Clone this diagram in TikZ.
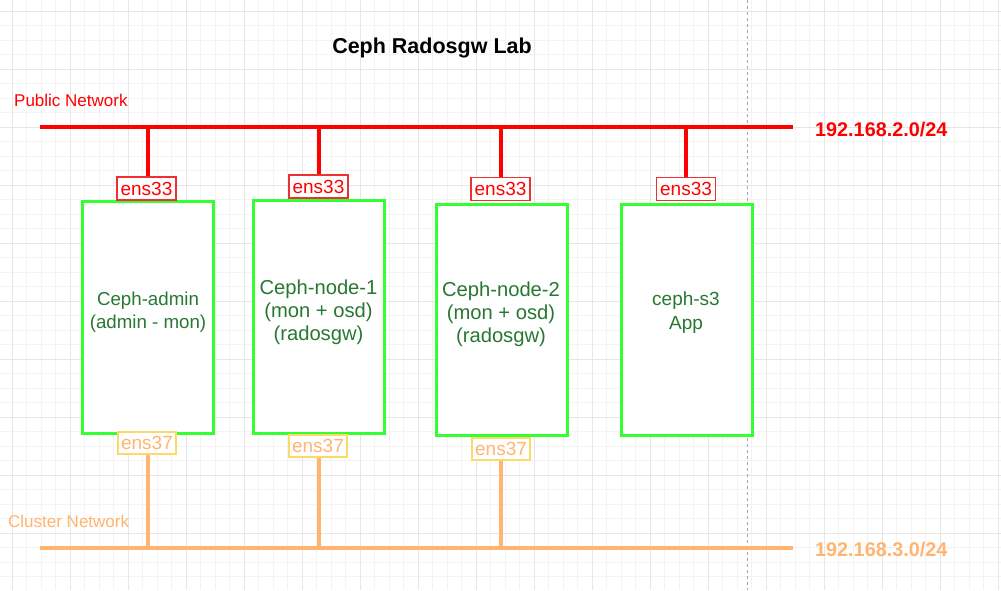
\documentclass[tikz,border=0pt]{standalone}
\usepackage{fontspec}
\setmainfont{Liberation Sans}
\definecolor{netred}{HTML}{FF0000}
\definecolor{boxred}{HTML}{F03030}
\definecolor{netorange}{HTML}{FFB570}
\definecolor{boxyellow}{HTML}{FFD966}
\definecolor{hostgreen}{HTML}{33FF33}
\definecolor{txtgreen}{HTML}{287832}
\definecolor{gridmajor}{HTML}{E6E6E6}
\definecolor{gridminor}{HTML}{F3F3F3}
\begin{document}
\begin{tikzpicture}[x=1pt,y=-1pt,
  minorgrid/.style={draw=gridminor,line width=0.8pt},
  majorgrid/.style={draw=gridmajor,line width=0.9pt},
  pagebreak/.style={draw=gray!70,line width=0.8pt,dash pattern=on 3pt off 3pt},
  pubbus/.style={draw=netred,line width=4pt},
  clubus/.style={draw=netorange,line width=4pt},
  hostbox/.style={draw=hostgreen,line width=3pt,fill=white,inner sep=0pt},
  nicpub/.style={draw=boxred,line width=1.2pt,fill=white,inner sep=0pt,minimum width=59pt,minimum height=23pt,text=netred,font=\fontsize{19}{21}\selectfont},
  niccl/.style={draw=boxyellow,line width=1.2pt,fill=white,inner sep=0pt,minimum width=58pt,minimum height=22pt,text=netorange,font=\fontsize{19}{21}\selectfont},
  hosttext/.style={align=center,text=txtgreen,inner sep=0pt},
  nettext/.style={anchor=west,inner sep=0pt,font=\fontsize{17}{19}\selectfont},
  iptext/.style={anchor=west,inner sep=0pt,font=\fontsize{19.8}{22}\selectfont\bfseries}
]
\useasboundingbox (0,0) rectangle (1001,590);
\fill[white] (0,0) rectangle (1001,590);
% grid
\foreach \i in {-1,...,69} {
  \pgfmathsetmacro\xx{12+14.5*\i}
  \draw[minorgrid] (\xx,0) -- (\xx,590);
}
\foreach \i in {-1,...,40} {
  \pgfmathsetmacro\yy{11+14.5*\i}
  \draw[minorgrid] (0,\yy) -- (1001,\yy);
}
\foreach \i in {0,...,17} {
  \pgfmathsetmacro\xx{12+58*\i}
  \draw[majorgrid] (\xx,0) -- (\xx,590);
}
\foreach \i in {0,...,10} {
  \pgfmathsetmacro\yy{11+58*\i}
  \draw[majorgrid] (0,\yy) -- (1001,\yy);
}
\draw[pagebreak] (747.5,0) -- (747.5,590);

% title and labels
\node[inner sep=0pt,font=\fontsize{21.5}{24}\selectfont\bfseries] (title) at (432,48) {Ceph Radosgw Lab};
\node[nettext,text=netred] (pubname) at (14,100) {Public Network};
\node[nettext,text=netorange] (cluname) at (8,521) {Cluster Network};
\node[iptext,text=netred] (pubip) at (815,129.5) {192.168.2.0/24};
\node[iptext,text=netorange] (cluip) at (815,549.5) {192.168.3.0/24};

% buses
\coordinate (pubL) at (40,127);
\coordinate (pubR) at (793,127);
\coordinate (cluL) at (40,548);
\coordinate (cluR) at (793,548);
\coordinate (pa) at (148,127);
\coordinate (pb) at (318.5,127);
\coordinate (pc) at (501,127);
\coordinate (pd) at (686,127);
\coordinate (ca) at (148,548);
\coordinate (cb) at (318.5,548);
\coordinate (cc) at (501,548);

% hosts
\node[hostbox,minimum width=131pt,minimum height=232pt] (h1) at (147.5,317) {};
\node[hostbox,minimum width=131pt,minimum height=233pt] (h2) at (318.5,316.5) {};
\node[hostbox,minimum width=131pt,minimum height=231pt] (h3) at (501.5,319.5) {};
\node[hostbox,minimum width=131pt,minimum height=231pt] (h4) at (686.5,319.5) {};

\node[hosttext,font=\fontsize{18.7}{23.5}\selectfont] (t1) at (148,312) {Ceph-admin\\(admin - mon)};
\node[hosttext,font=\fontsize{20.2}{23}\selectfont] (t2) at (318.5,312) {Ceph-node-1\\(mon + osd)\\(radosgw)};
\node[hosttext,font=\fontsize{20.2}{23}\selectfont] (t3) at (501,314) {Ceph-node-2\\(mon + osd)\\(radosgw)};
\node[hosttext,font=\fontsize{19}{23.3}\selectfont] (t4) at (686,312.5) {ceph-s3\\App};

% NICs
\node[nicpub] (e33a) at (146.5,188.5) {ens33};
\node[nicpub] (e33b) at (318.5,186.5) {ens33};
\node[nicpub] (e33c) at (500.5,189) {ens33};
\node[nicpub] (e33d) at (686,189) {ens33};
\node[niccl] (e37a) at (147,443) {ens37};
\node[niccl] (e37b) at (318,446) {ens37};
\node[niccl] (e37c) at (501,449) {ens37};

% connectors
\draw[pubbus] (pa) -- (pa |- e33a.north);
\draw[pubbus] (pb) -- (pb |- e33b.north);
\draw[pubbus] (pc) -- (pc |- e33c.north);
\draw[pubbus] (pd) -- (pd |- e33d.north);
\draw[clubus] (ca) -- (ca |- e37a.south);
\draw[clubus] (cb) -- (cb |- e37b.south);
\draw[clubus] (cc) -- (cc |- e37c.south);
\draw[pubbus] (pubL) -- (pubR);
\draw[clubus] (cluL) -- (cluR);
\end{tikzpicture}
\end{document}
